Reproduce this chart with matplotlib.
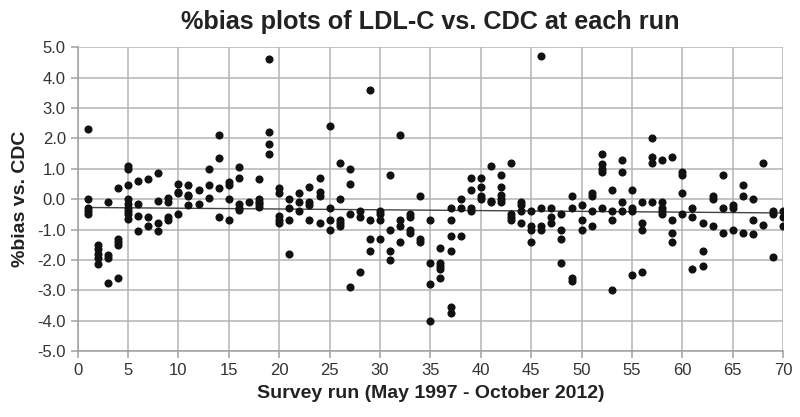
import numpy as np
import matplotlib
matplotlib.use("Agg")
import matplotlib.pyplot as plt

# %bias readings, one line per survey run
run = []
bias = []
points_per_run = [
    (1, [2.3, 0.0, -0.3, -0.4, -0.5]),
    (2, [-1.5, -1.65, -1.8, -1.95, -2.15]),
    (3, [-0.1, -1.85, -1.95, -2.75]),
    (4, [0.35, -1.3, -1.4, -1.5, -2.6]),
    (5, [1.1, 1.0, 0.45, 0.0, -0.15, -0.3, -0.4, -0.5, -0.65]),
    (6, [0.6, -0.15, -0.55, -1.05]),
    (7, [0.65, -0.6, -0.9]),
    (8, [0.85, -0.05, -0.8, -1.05]),
    (9, [0.05, -0.1, -0.6, -0.7]),
    (10, [0.5, 0.25, 0.2, -0.5]),
    (11, [0.45, 0.15, 0.1, -0.2]),
    (12, [0.3, -0.15]),
    (13, [1.0, 0.45, 0.05]),
    (14, [2.1, 1.35, 0.35, -0.6]),
    (15, [0.55, 0.45, 0.0, -0.7]),
    (16, [1.05, 0.7, -0.15, -0.3, -0.35]),
    (17, [-0.1]),
    (18, [0.65, 0.0, -0.1, -0.15, -0.25]),
    (19, [4.6, 2.2, 1.8, 1.5]),
    (20, [0.35, 0.2, -0.55, -0.7, -0.8]),
    (21, [0.0, -0.3, -0.7, -1.8]),
    (22, [0.2, -0.1, -0.4]),
    (23, [0.4, -0.1, -0.2, -0.7]),
    (24, [0.7, 0.25, 0.1, -0.8]),
    (25, [2.4, -0.3, -0.7, -1.0]),
    (26, [1.2, 0.0, -0.7, -0.8, -0.9]),
    (27, [1.0, 0.5, -0.5, -2.9]),
    (28, [-0.4, -0.6, -2.4]),
    (29, [3.6, -0.7, -1.3, -1.7]),
    (30, [-0.4, -0.5, -0.7, -1.3]),
    (31, [0.8, -1.0, -1.7, -2.0]),
    (32, [2.1, -0.7, -0.9, -1.4]),
    (33, [-0.5, -0.6, -1.0, -1.1]),
    (34, [0.1, -1.3, -1.4]),
    (35, [-0.7, -2.1, -2.8, -4.0]),
    (36, [-1.6, -2.1, -2.2, -2.3, -2.6]),
    (37, [-0.3, -0.7, -1.2, -1.7, -3.55, -3.75]),
    (38, [0.0, -0.3, -1.2]),
    (39, [0.7, 0.3, -0.3, -0.4]),
    (40, [0.7, 0.4, 0.1, 0.0]),
    (41, [1.1, -0.05, -0.1]),
    (42, [0.8, 0.4, 0.15, 0.0, -0.1]),
    (43, [1.2, -0.5, -0.6, -0.7]),
    (44, [-0.1, -0.2, -0.4, -0.8]),
    (45, [-0.4, -0.9, -1.0, -1.4]),
    (46, [4.7, -0.3, -0.9, -1.0]),
    (47, [-0.3, -0.6, -0.8]),
    (48, [-0.5, -1.0, -1.3, -2.1]),
    (49, [0.1, -0.3, -2.6, -2.7]),
    (50, [-0.2, -0.7, -1.0]),
    (51, [0.2, 0.1, -0.4, -0.9]),
    (52, [1.5, 1.15, 1.0, 0.9, -0.3]),
    (53, [0.3, -0.4, -0.7, -3.0]),
    (54, [1.3, 0.9, -0.1, -0.4]),
    (55, [0.3, -0.3, -0.4, -2.5]),
    (56, [-0.1, -0.8, -1.0, -2.4]),
    (57, [2.0, 1.4, 1.2, -0.1]),
    (58, [1.3, -0.1, -0.3, -0.4, -0.5]),
    (59, [1.4, -0.7, -1.1, -1.4]),
    (60, [0.9, 0.8, 0.2, -0.5]),
    (61, [-0.3, -0.6, -2.3]),
    (62, [-0.8, -1.7, -2.2]),
    (63, [0.1, 0.0, -0.9]),
    (64, [0.8, -0.3, -1.1]),
    (65, [-0.2, -0.3, -1.0]),
    (66, [0.45, 0.1, -1.1]),
    (67, [0.0, -0.7, -1.15]),
    (68, [1.2, -0.85]),
    (69, [-0.4, -0.5, -1.9]),
    (70, [-0.4, -0.6, -0.9]),
]
for r, vals in points_per_run:
    run += [r] * len(vals)
    bias += vals
run = np.array(run, dtype=float)
bias = np.array(bias)

x_ticks = np.arange(0, 71, 5)
y_ticks = np.arange(-5, 5.01, 1.0)

plt.rcParams['font.family'] = ['Liberation Sans', 'DejaVu Sans']

fig = plt.figure(figsize=(8, 4.17), dpi=100)
ax = fig.add_axes([0.097, 0.158, 0.882, 0.729])

ax.scatter(run, bias, s=34, color='#111111', zorder=3, linewidths=0)

# linear trend line as in a spreadsheet chart
slope, icpt = np.polyfit(run, bias, 1)
xt = np.array([run.min(), run.max()])
ax.plot(xt, slope * xt + icpt, color='#444444', lw=1.0, zorder=2)

ax.set_xlim(0, 70)
ax.set_ylim(-5, 5)
ax.set_xticks(x_ticks)
ax.set_yticks(y_ticks)
ax.set_yticklabels([f'{v:.1f}' for v in y_ticks])
ax.grid(True, color='#b4b4b4', lw=1.1, zorder=0)
for s in ['top', 'right']:
    ax.spines[s].set_visible(False)
for s in ['left', 'bottom']:
    ax.spines[s].set_color('#a0a0a0')
    ax.spines[s].set_linewidth(1.1)
ax.tick_params(axis='both', colors='#a0a0a0', labelcolor='#333333', labelsize=12,
               length=5, width=1.1)

ax.set_title('%bias plots of LDL-C vs. CDC at each run', fontsize=18.2,
             fontweight='bold', color='#222222', pad=13)
ax.set_xlabel('Survey run (May 1997 - October 2012)', fontsize=14,
              fontweight='bold', color='#222222', labelpad=5)
ax.set_ylabel('%bias vs. CDC', fontsize=14, fontweight='bold', color='#222222',
              labelpad=6)

fig.savefig('out.png', dpi=100)
